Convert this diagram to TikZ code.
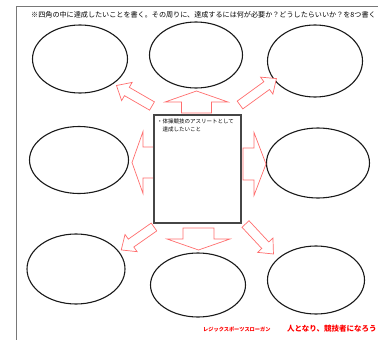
\documentclass[tikz,border=0pt]{standalone}
\usepackage{fontspec}
\setmainfont{Noto Sans CJK JP}
\usetikzlibrary{shapes.geometric}
\definecolor{arrowred}{RGB}{255,110,110}
\definecolor{framegray}{RGB}{120,120,120}
\definecolor{boxgray}{RGB}{70,70,70}
\tikzset{
  ell/.style={draw=black!90, line width=1.1pt, ellipse, inner sep=0pt},
  goalbox/.style={draw=boxgray, line width=1.4pt, rectangle, inner sep=0pt, fill=white},
  blockarr/.style={draw=arrowred, line width=0.7pt, fill=white, line join=miter},
}
% \blockarrdraw{x}{y}{angle}{length}{head length}{head half width}{shaft half width}
\newcommand{\blockarrdraw}[7]{%
  \begin{scope}[shift={(#1,#2)}, rotate=#3]
    \draw[blockarr] (0,-#7) -- ({#4-#5},-#7) -- ({#4-#5},-#6) -- (#4,0) -- ({#4-#5},#6) -- ({#4-#5},#7) -- (0,#7) -- cycle;
  \end{scope}}
\begin{document}
\begin{tikzpicture}[x=1pt, y=-1pt]
\useasboundingbox (0,0) rectangle (378,340);
% frame
\draw[framegray, line width=0.6pt] (16,345) -- (16,6) -- (385,6);
% header
\node[anchor=west, inner sep=0pt, font=\fontsize{7.1}{8}\selectfont] (head) at (31,14.5)
  {※四角の中に達成したいことを書く。その周りに、達成するには何が必要か？どうしたらいいか？を8つ書く};
% ellipses
\node[ell, minimum width=95pt, minimum height=68pt] (e1) at (80,59) {};
\node[ell, minimum width=93pt, minimum height=66pt] (e2) at (196,55) {};
\node[ell, minimum width=95pt, minimum height=72pt] (e3) at (315,61) {};
\node[ell, minimum width=99pt, minimum height=67pt] (e4) at (79,160) {};
\node[ell, minimum width=103pt, minimum height=70pt] (e5) at (318,163) {};
\node[ell, minimum width=98pt, minimum height=70pt] (e6) at (76,269) {};
\node[ell, minimum width=95pt, minimum height=64pt] (e7) at (198,285) {};
\node[ell, minimum width=97pt, minimum height=68pt] (e8) at (316,280) {};
% block arrows
\blockarrdraw{196.5}{113}{90}{22}{11}{31.5}{15}
\blockarrdraw{154}{162.5}{180}{22}{11}{31}{15.5}
\blockarrdraw{243}{164}{0}{23}{12}{31.5}{16}
\blockarrdraw{198.5}{228}{-90}{22}{11}{31.5}{15.5}
\blockarrdraw{152}{106}{150}{41}{12}{10.5}{4.8}
\blockarrdraw{240}{105}{36}{45}{12}{10.5}{4.8}
\blockarrdraw{154}{227}{-145}{40}{12}{10.5}{4.8}
\blockarrdraw{245.5}{224}{-47}{41}{12}{10.5}{4.8}
% central box
\node[goalbox, minimum width=87pt, minimum height=108pt] (goal) at (197.5,169) {};
\node[anchor=north west, inner sep=0pt, font=\fontsize{5.5}{8}\selectfont, align=left] (goaltext) at ([xshift=3.5pt,yshift=-4pt]goal.north west)
  {・体操競技のアスリートとして\\\hspace*{5.5pt}達成したいこと};
% slogan
\node[anchor=west, inner sep=0pt, text=red, font=\bfseries\fontsize{5.2}{6}\selectfont] (slogan1) at (203,329) {レジックスポーツスローガン};
\node[anchor=west, inner sep=0pt, text=red, font=\bfseries\fontsize{7.5}{8}\selectfont] (slogan2) at (287,329) {人となり、競技者になろう};
\end{tikzpicture}
\end{document}
